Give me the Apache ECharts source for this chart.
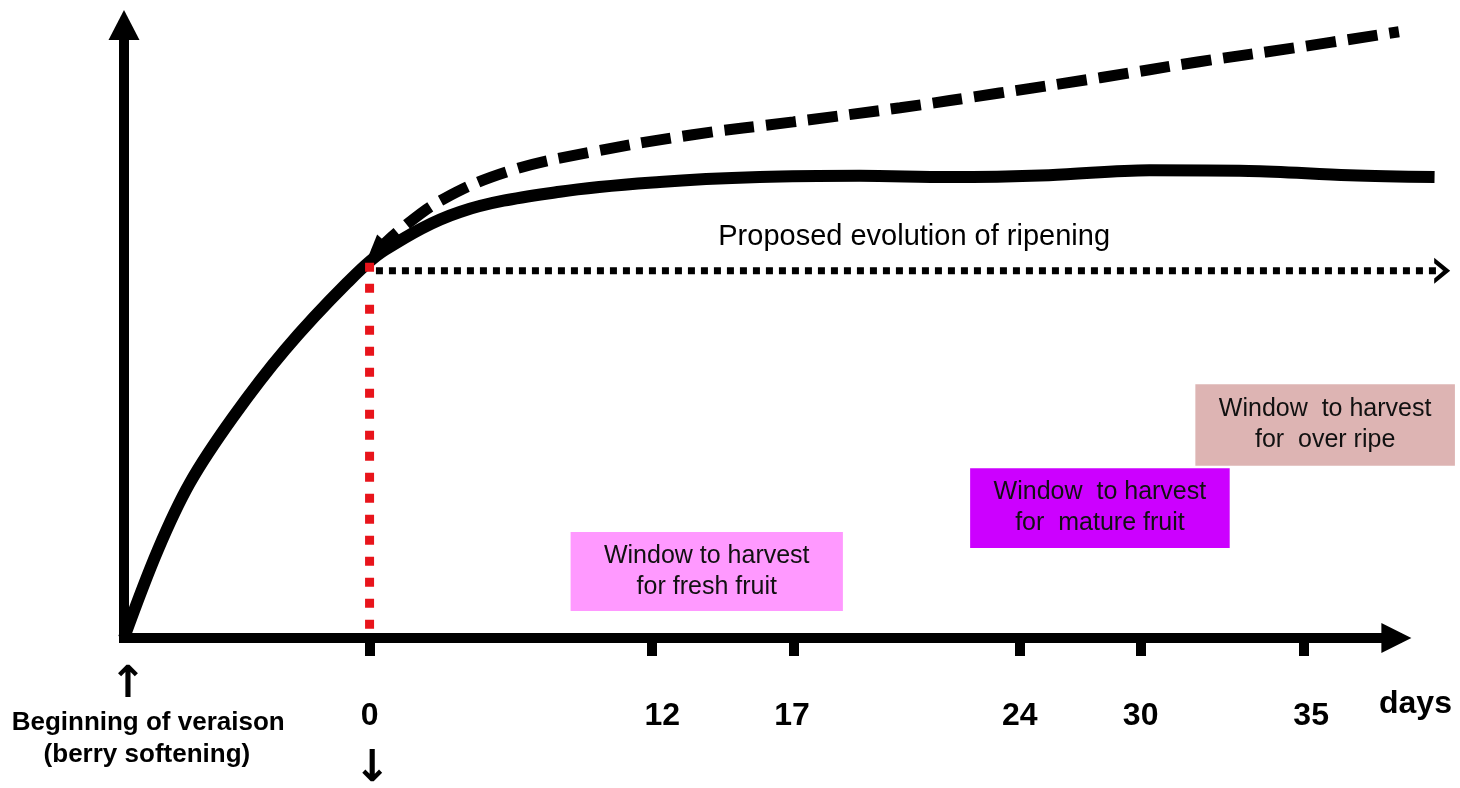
<!DOCTYPE html>
<html>
<head>
<meta charset="utf-8">
<title>Ripening windows</title>
<script src="https://cdn.jsdelivr.net/npm/echarts@6/dist/echarts.min.js"></script>
<style>
  html, body { margin: 0; padding: 0; background: #fff; }
  #chart { width: 1460px; height: 788px; }
</style>
</head>
<body>
<div id="chart"></div>
<script>
// x = position along the time axis (0 = beginning of veraison, 100 = tip of the axis),
// y = ripeness (0..100). Day ticks are read off the picture, they are not evenly spaced.
const tickPos = [19.3, 41.5, 52.6, 70.4, 79.9, 92.7];
const labelPos = [19.3, 42.3, 52.5, 70.4, 79.9, 93.3];
const tickDays = ["0", "12", "17", "24", "30", "35"];

// solid curve: ripening
const ripening = [
  [0, 0], [2.67, 14.4], [5.18, 25.3], [8.56, 36.0], [12.65, 47.0],
  [17.52, 57.9], [20.5, 63.3], [26.4, 69.5], [34.25, 72.8], [42.1, 74.4],
  [49.96, 75.2], [57.8, 75.4], [64.9, 75.2], [72.7, 75.5], [80.6, 76.3],
  [88.4, 76.2], [96.3, 75.5], [103.0, 75.2],
];
// dashed curve: proposed evolution (starts with an arrow at the harvest point)
const proposed = [
  [19.75, 62.8], [21.7, 66.6], [25.1, 71.6], [30.3, 76.2], [36.8, 79.3],
  [44.7, 82.1], [52.6, 84.2], [61.0, 86.5], [68.8, 88.9], [76.7, 91.4],
  [84.5, 94.0], [92.4, 96.4], [100.2, 98.9],
];
// dotted level at day 0 and the red marker down to the axis
const harvestLevel = [[19.8, 59.9], [103.6, 59.9]];
const dayZeroMark = [[19.3, 61.2], [19.3, 1.3]];

// harvest windows
const windowLabels = [
  "Window to harvest\nfor fresh fruit",
  "Window  to harvest\nfor  mature fruit",
  "Window  to harvest\nfor  over ripe",
];
const windowStart = [35.1, 66.5, 84.2];
const windowEnd = [56.5, 86.9, 104.6];
const windowLow = [4.4, 14.7, 28.1];
const windowHigh = [17.3, 27.7, 41.4];

// free text notes
const noteText = ["Proposed evolution of ripening", "↑", "Beginning of veraison", "(berry softening)", "↓", "days"];
const noteX = [62.1, 0.3, 1.9, 1.8, 19.5, 101.5];
const noteY = [65.4, -7.8, -13.9, -19.1, -21.4, -10.8];

const FONT = "'Liberation Sans', Arial, sans-serif";
const windowColors = ["#FF99FF", "#CC00FF", "#DDB4B3"];
const noteStyles = [
  { fontSize: 29, fontWeight: "normal" },
  { fontSize: 44, fontWeight: "bold", fontFamily: "'DejaVu Sans', sans-serif" },
  { fontSize: 26, fontWeight: "bold" },
  { fontSize: 26, fontWeight: "bold" },
  { fontSize: 44, fontWeight: "bold", fontFamily: "'DejaVu Sans', sans-serif" },
  { fontSize: 32, fontWeight: "bold" },
];

const chevron = "path://M0,0 L14,12 L0,24 L0,19 L8,12 L0,5 Z";

const chart = echarts.init(document.getElementById("chart"));

const option = {
  animation: false,
  backgroundColor: "#fff",
  // the grid runs to the right edge so the curves may pass the axis arrow
  grid: { left: 124, right: 0, top: 25, bottom: 150, containLabel: false },
  xAxis: {
    type: "value",
    min: 0,
    max: 105,
    splitLine: { show: false },
    axisLine: { show: false },
    axisTick: {
      show: true,
      customValues: tickPos,
      length: 18,
      lineStyle: { color: "#000", width: 10 },
    },
    axisLabel: {
      show: true,
      customValues: labelPos,
      margin: 62,
      color: "#000",
      fontFamily: FONT,
      fontWeight: "bold",
      fontSize: 32,
      formatter: (v) => tickDays[labelPos.indexOf(v)] ?? "",
    },
  },
  yAxis: {
    type: "value",
    min: 0,
    max: 100,
    splitLine: { show: false },
    axisTick: { show: false },
    axisLabel: { show: false },
    axisLine: {
      show: true,
      symbol: ["none", "triangle"],
      symbolSize: [31, 30],
      lineStyle: { color: "#000", width: 10, cap: "square" },
    },
  },
  series: [
    {
      name: "ripening",
      type: "line",
      data: ripening,
      smooth: 0.35,
      symbol: "none",
      clip: false,
      z: 3,
      lineStyle: { color: "#000", width: 12 },
      // time axis with its arrow, ending at position 100
      markLine: {
        silent: true,
        symbol: ["none", "triangle"],
        symbolSize: 30,
        label: { show: false },
        lineStyle: { color: "#000", width: 10, type: "solid", cap: "square" },
        data: [[{ coord: [0, 0] }, { coord: [100, 0] }]],
      },
    },
    {
      name: "proposed",
      type: "line",
      data: proposed.map((p, i) =>
        i === 0
          ? { value: p, symbol: "triangle", symbolSize: [22, 30], symbolRotate: 138 }
          : { value: p }
      ),
      smooth: 0.4,
      symbol: "none",
      showSymbol: true,
      clip: false,
      z: 3,
      itemStyle: { color: "#000" },
      lineStyle: { color: "#000", width: 11, type: [30, 12], cap: "butt" },
    },
    {
      name: "harvest level",
      type: "line",
      data: harvestLevel.map((p, i) =>
        i === harvestLevel.length - 1
          ? { value: p, symbol: chevron, symbolSize: [16, 26] }
          : { value: p }
      ),
      symbol: "none",
      showSymbol: true,
      clip: false,
      z: 4,
      itemStyle: { color: "#000" },
      lineStyle: { color: "#000", width: 7, type: [7, 6], cap: "butt" },
    },
    {
      name: "day zero",
      type: "line",
      data: dayZeroMark,
      symbol: "none",
      clip: false,
      z: 5,
      lineStyle: { color: "#E8141B", width: 9, type: [9, 12], cap: "butt" },
    },
    {
      name: "windows",
      type: "custom",
      clip: false,
      z: 2,
      data: windowLabels.map((_, i) => [windowStart[i], windowEnd[i], windowLow[i], windowHigh[i]]),
      encode: { x: [0, 1], y: [2, 3] },
      renderItem: (params, api) => {
        const a = api.coord([api.value(0), api.value(3)]);
        const b = api.coord([api.value(1), api.value(2)]);
        return {
          type: "rect",
          shape: { x: a[0], y: a[1], width: b[0] - a[0], height: b[1] - a[1] },
          style: { fill: windowColors[params.dataIndex] },
          textContent: {
            style: {
              text: windowLabels[params.dataIndex],
              fontFamily: FONT,
              fontSize: 25,
              lineHeight: 31,
              fill: "#111",
              align: "center",
            },
          },
          textConfig: { position: "inside" },
        };
      },
    },
    {
      name: "notes",
      type: "custom",
      clip: false,
      z: 6,
      data: noteText.map((_, i) => [noteX[i], noteY[i]]),
      encode: { x: 0, y: 1 },
      renderItem: (params, api) => {
        const p = api.coord([api.value(0), api.value(1)]);
        const s = noteStyles[params.dataIndex];
        return {
          type: "text",
          x: p[0],
          y: p[1],
          style: {
            text: noteText[params.dataIndex],
            fontFamily: s.fontFamily || FONT,
            fontSize: s.fontSize,
            fontWeight: s.fontWeight,
            fill: "#000",
            align: "center",
            verticalAlign: "middle",
          },
        };
      },
    },
  ],
};

chart.setOption(option);
</script>
</body>
</html>
